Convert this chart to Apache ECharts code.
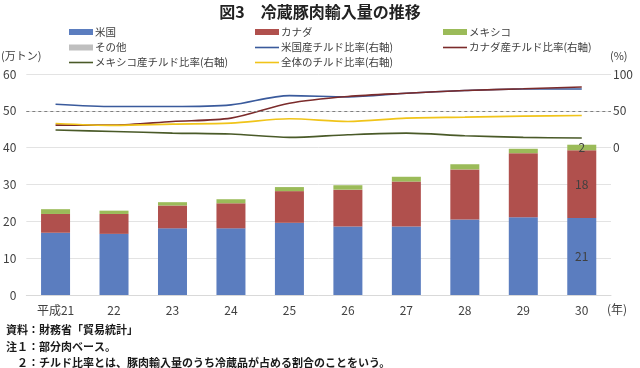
<!DOCTYPE html>
<html><head><meta charset="utf-8">
<script src="https://cdn.jsdelivr.net/npm/echarts@6/dist/echarts.min.js"></script>
<style>html,body{margin:0;padding:0;background:#fff}#c{width:640px;height:368px}</style>
</head><body><div id="c"></div>
<script>
const categories = ['平成21','22','23','24','25','26','27','28','29','30'];
const usVol     = [16.9, 16.6, 18.1, 18.1, 19.6, 18.6, 18.6, 20.5, 21.1, 20.9];
const canadaVol = [5.1, 5.4, 6.2, 6.8, 8.6, 10.0, 12.2, 13.6, 17.4, 18.4];
const mexicoVol = [1.3, 0.9, 0.9, 1.1, 1.1, 1.2, 1.3, 1.4, 1.2, 1.5];
const otherVol  = [0, 0, 0, 0, 0, 0, 0, 0, 0, 0];
const usRatio     = [59.0, 55.8, 55.8, 58.1, 70.7, 69.0, 73.9, 77.5, 79.7, 79.7];
const canadaRatio = [30.6, 30.6, 35.6, 40.1, 60.4, 69.5, 73.9, 77.5, 79.9, 82.4];
const mexicoRatio = [23.9, 22.0, 19.8, 18.5, 14.0, 17.6, 19.8, 16.2, 14.0, 13.1];
const totalRatio  = [32.9, 30.2, 32.0, 33.3, 39.2, 35.6, 40.1, 41.4, 42.8, 43.7];
const leftTicks = {min: 0, max: 60, interval: 10};
const rightTicks = {min: -200, max: 100, interval: 50};

const FONT = '"Noto Sans CJK JP", sans-serif';
const labelLast = (arr) => arr.map((v, i) => i === arr.length - 1 ? {value: v, label: {show: true}} : v);
const barLabel = {show: false, position: 'inside', color: '#404040', fontSize: 12, fontFamily: FONT,
  formatter: p => Math.round(p.value)};

const chart = echarts.init(document.getElementById('c'), null, {renderer: 'canvas'});
function leg(name, left, top, isLine) {
  return {data: [name], left: left, top: top, orient: 'vertical', padding: 0, selectedMode: false,
    icon: 'rect', itemWidth: 24, itemHeight: isLine ? 1.6 : 6,
    textStyle: {fontSize: 10.5, color: '#404040', fontFamily: FONT, lineHeight: 12, padding: [0,0,0,-3]}};
}
const rows = [26, 41.5, 56.5];
chart.setOption({
  animation: false,
  textStyle: {fontFamily: FONT},
  title: {text: '図3　冷蔵豚肉輸入量の推移', left: 'center', top: 4, padding: 0,
    textStyle: {fontSize: 16, fontWeight: 'bold', color: '#222', fontFamily: FONT}},
  legend: [
    leg('米国', 69, rows[0], false),
    leg('その他', 69, rows[1], false),
    leg('メキシコ産チルド比率(右軸)', 69, rows[2], true),
    leg('カナダ', 255, rows[0], false),
    leg('米国産チルド比率(右軸)', 255, rows[1], true),
    leg('全体のチルド比率(右軸)', 255, rows[2], true),
    leg('メキシコ', 443, rows[0], false),
    leg('カナダ産チルド比率(右軸)', 443, rows[1], true)
  ],
  grid: {left: 24, right: 29, top: 74, bottom: 73},
  xAxis: {type: 'category', data: categories,
    axisLine: {lineStyle: {color: '#d9d9d9'}}, axisTick: {show: false},
    axisLabel: {color: '#404040', fontSize: 12, margin: 9, fontFamily: FONT}},
  yAxis: [
    {type: 'value', min: leftTicks.min, max: leftTicks.max, interval: leftTicks.interval,
      axisLine: {show: false}, axisTick: {show: false},
      axisLabel: {color: '#404040', fontSize: 12, margin: 10, fontFamily: FONT},
      splitLine: {lineStyle: {color: '#e3e3e3'}}},
    {type: 'value', min: rightTicks.min, max: rightTicks.max, interval: rightTicks.interval,
      axisLine: {show: false}, axisTick: {show: false}, splitLine: {show: false},
      axisLabel: {color: '#404040', fontSize: 12, margin: 2, fontFamily: FONT,
        formatter: v => v >= 0 ? String(v) : ''}}
  ],
  series: [
    {name: '米国', type: 'bar', stack: 'vol', data: labelLast(usVol), barWidth: 29,
      itemStyle: {color: '#5b7dbf'}, label: barLabel},
    {name: 'カナダ', type: 'bar', stack: 'vol', data: labelLast(canadaVol),
      itemStyle: {color: '#b0504d'}, label: barLabel},
    {name: 'メキシコ', type: 'bar', stack: 'vol', data: labelLast(mexicoVol),
      itemStyle: {color: '#9bbb59'}, label: barLabel},
    {name: 'その他', type: 'bar', stack: 'vol', data: otherVol,
      itemStyle: {color: '#bfbfbf'}},
    {name: '米国産チルド比率(右軸)', type: 'line', yAxisIndex: 1, data: usRatio, symbol: 'none', smooth: 0.3,
      lineStyle: {color: '#3a5a9c', width: 1.6}, itemStyle: {color: '#3a5a9c'}},
    {name: 'カナダ産チルド比率(右軸)', type: 'line', yAxisIndex: 1, data: canadaRatio, symbol: 'none', smooth: 0.3,
      lineStyle: {color: '#7b2b2b', width: 1.6}, itemStyle: {color: '#7b2b2b'}},
    {name: 'メキシコ産チルド比率(右軸)', type: 'line', yAxisIndex: 1, data: mexicoRatio, symbol: 'none', smooth: 0.3,
      lineStyle: {color: '#4a5a28', width: 1.6}, itemStyle: {color: '#4a5a28'}},
    {name: '全体のチルド比率(右軸)', type: 'line', yAxisIndex: 1, data: totalRatio, symbol: 'none', smooth: 0.3,
      lineStyle: {color: '#f0c419', width: 1.6}, itemStyle: {color: '#f0c419'},
      markLine: {silent: true, symbol: 'none', label: {show: false},
        lineStyle: {color: '#7f7f7f', type: [3, 3], width: 1}, data: [{yAxis: 50}]}}
  ],
  graphic: [
    {type: 'text', left: 1, top: 50, style: {text: '(万トン)', fontSize: 11, fill: '#404040', fontFamily: FONT}},
    {type: 'text', left: 610, top: 50, style: {text: '(%)', fontSize: 11, fill: '#404040', fontFamily: FONT}},
    {type: 'text', left: 607, top: 303, style: {text: '(年)', fontSize: 12, fill: '#404040', fontFamily: FONT}},
    {type: 'text', left: 6, top: 324, style: {text: '資料：財務省「貿易統計」', fontSize: 11, fontWeight: 'bold', fill: '#1a1a1a', fontFamily: FONT}},
    {type: 'text', left: 6, top: 341, style: {text: '注１：部分肉ベース。', fontSize: 11, fontWeight: 'bold', fill: '#1a1a1a', fontFamily: FONT}},
    {type: 'text', left: 6, top: 357, style: {text: '　２：チルド比率とは、豚肉輸入量のうち冷蔵品が占める割合のことをいう。', fontSize: 11, fontWeight: 'bold', fill: '#1a1a1a', fontFamily: FONT}}
  ]
});
</script></body></html>
